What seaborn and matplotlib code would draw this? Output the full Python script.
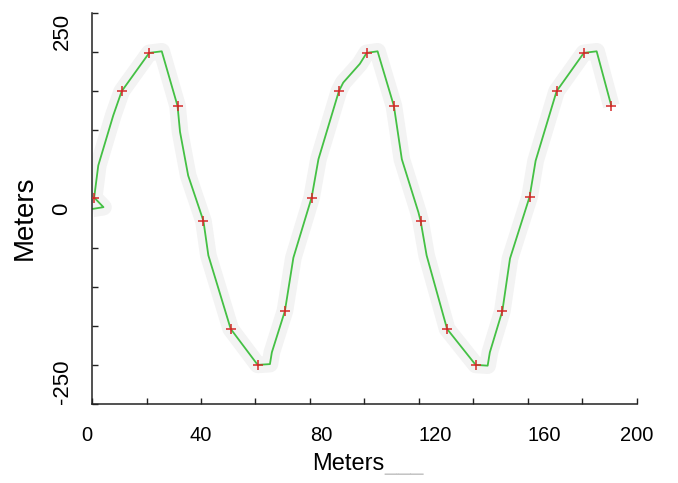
import matplotlib
matplotlib.use("Agg")
import matplotlib.pyplot as plt
import seaborn as sns
import pandas as pd

# Track of the surveyed path (meters)
track_x = [0.3, 4.2, 0.8, 2.3, 7.8, 10.9, 21.0, 25.6, 31.4, 32.3, 35.3, 40.9,
           42.7, 50.9, 60.8, 65.3, 66.0, 70.8, 73.9, 80.6, 83.1, 90.6, 92.2,
           98.3, 100.8, 104.8, 110.8, 113.7, 119.8, 120.6, 122.8, 130.3,
           140.8, 145.2, 146.0, 150.6, 153.4, 160.6, 162.8, 170.5, 180.5,
           185.2, 190.6]
track_y = [-0.5, 1.7, 14, 55, 119, 150, 199, 201, 131, 98, 42, -16,
           -60, -154, -200, -199, -184, -131, -63, 14, 63, 150, 161,
           185, 199, 201, 131, 63, -5, -16, -60, -154,
           -200, -201, -184, -131, -64, 15, 61, 150, 199,
           201, 131]

# Sampled stations along the track
station_x = [0.8, 10.9, 21.0, 31.4, 40.9, 50.9, 60.8, 70.8, 80.6, 90.6,
             100.8, 110.8, 120.6, 130.3, 140.8, 150.6, 160.6, 170.5, 180.5, 190.6]
station_y = [14, 150, 199, 131, -16, -154, -200, -131, 14, 150,
             199, 131, -16, -154, -200, -131, 15, 150, 199, 131]

x_ticks = [0, 20, 40, 60, 80, 100, 120, 140, 160, 180, 200]
x_labels = ["0", "", "40", "", "80", "", "120", "", "160", "", "200"]
y_ticks = [-250, -200, -150, -100, -50, 0, 50, 100, 150, 200, 250]
y_labels = ["-250", "", "", "", "", "0", "", "", "", "", "250"]

track = pd.DataFrame({"x": track_x, "y": track_y})
stations = pd.DataFrame({"x": station_x, "y": station_y})

sns.set_style("ticks")
plt.rcParams["font.family"] = ["Liberation Sans", "DejaVu Sans"]

fig = plt.figure(figsize=(6.78, 4.83), dpi=100)
ax = fig.add_axes([0.1357, 0.1636, 0.8038, 0.8095])

# faint halo under the track
sns.lineplot(data=track, x="x", y="y", sort=False, estimator=None,
             color="#f3f3f3", linewidth=12, solid_capstyle="butt", ax=ax)
sns.lineplot(data=track, x="x", y="y", sort=False, estimator=None,
             color="#44c044", linewidth=1.3, ax=ax)
sns.scatterplot(data=stations, x="x", y="y", marker="+", color="#d42a2a",
                s=62, linewidth=1.1, ax=ax, zorder=5)

ax.set_xlim(0, 200)
ax.set_ylim(-250, 250)
ax.set_xticks(x_ticks)
ax.set_xticklabels(x_labels)
ax.set_yticks(y_ticks)
ax.set_yticklabels(y_labels)

for side in ("top", "right"):
    ax.spines[side].set_visible(False)
for side in ("left", "bottom"):
    ax.spines[side].set_color("#222222")
    ax.spines[side].set_linewidth(1.1)

ax.tick_params(axis="both", which="major", direction="in", length=4.5,
               width=1.0, color="#222222", labelcolor="black",
               bottom=True, left=True, top=False, right=False)
ax.tick_params(axis="x", pad=16, labelsize=14.5)
ax.tick_params(axis="y", pad=14, labelsize=16)

for lab in ax.get_yticklabels():
    lab.set_rotation(90)
    t = lab.get_text()
    if t == "250":
        lab.set_va("top")
    elif t == "-250":
        lab.set_va("bottom")
    else:
        lab.set_va("center")

for lab in ax.get_xticklabels():
    t = lab.get_text()
    if t == "0":
        lab.set_ha("right")
    elif t in ("80", "120", "160"):
        lab.set_ha("left")
    else:
        lab.set_ha("center")

ax.set_xlabel("Meters", fontsize=17, color="black")
ax.xaxis.set_label_coords(0.47, -0.125)
ax.set_ylabel("Meters", fontsize=20, color="black")
ax.yaxis.set_label_coords(-0.10, 0.476)

ax.annotate("___", xy=(1.0, 0.0), xycoords=ax.xaxis.label,
            ha="left", va="bottom", fontsize=17, color="#c4c4c4")

fig.savefig("out.png", dpi=100, facecolor="white")
